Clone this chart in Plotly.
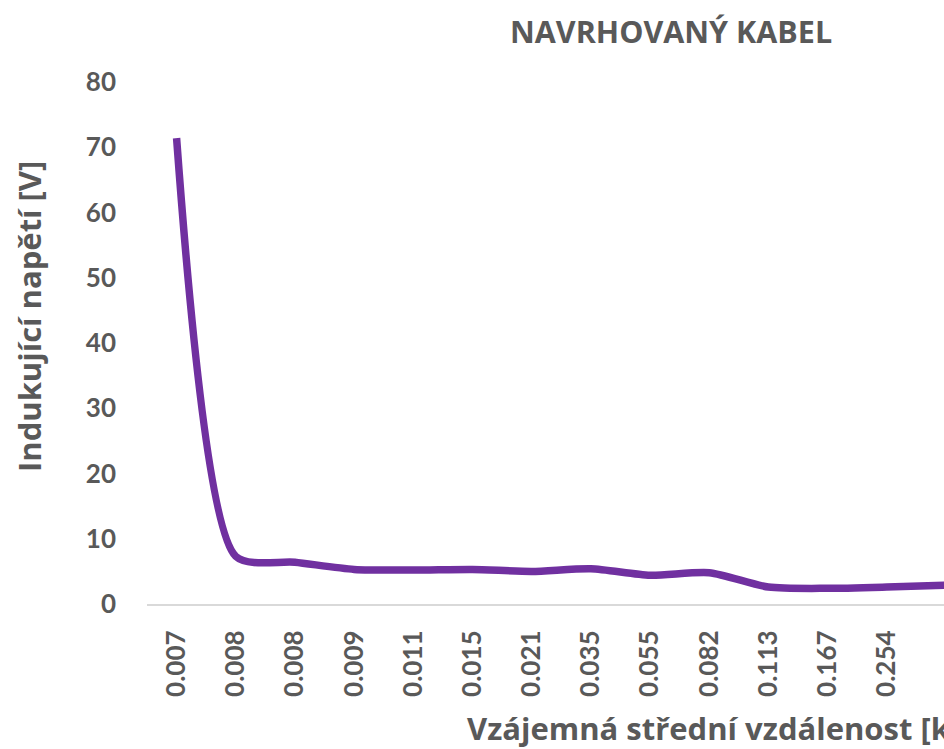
import plotly.graph_objects as go

# Data
categories = ["0.007", "0.008", "0.008", "0.009", "0.011", "0.015", "0.021",
              "0.035", "0.055", "0.082", "0.113", "0.167", "0.254", "0.386"]
voltage = [71.4, 7.3, 6.4, 5.3, 5.2, 5.3, 5.0, 5.4, 4.4, 4.8, 2.6, 2.4, 2.6, 2.9]
y_ticks = [0, 10, 20, 30, 40, 50, 60, 70, 80]

title_text = "NAVRHOVANÝ KABEL"
x_title = "Vzájemná střední vzdálenost [km]"
y_title = "Indukující napětí [V]"

W, H = 944, 749
L, R, T, B = 147, 0, 82, 145
PW, PH = W - L - R, H - T - B
GRAY = "#595959"
FONT = "Lato"
TFONT = "Open Sans"


def px(xp):
    return (xp - L) / PW


def py(yp):
    return (H - B - yp) / PH


idx = list(range(len(categories)))

fig = go.Figure()
fig.add_trace(go.Scatter(
    x=idx, y=voltage, mode="lines",
    line=dict(color="#7030A0", width=7.5, shape="spline", smoothing=0.7),
    hoverinfo="skip",
))

fig.update_layout(
    width=W, height=H,
    margin=dict(l=L, r=R, t=T, b=B, pad=0),
    paper_bgcolor="white", plot_bgcolor="white",
    showlegend=False,
    font=dict(family=FONT, color=GRAY),
    xaxis=dict(
        tickmode="array", tickvals=idx, ticktext=categories,
        range=[-0.5, (W - 177) / 59.15],
        tickangle=-90,
        tickfont=dict(family=FONT, size=26, color=GRAY, weight="bold"),
        showgrid=False, zeroline=False,
        showline=True, linecolor="#d9d9d9", linewidth=2,
        ticks="", ticklabelstandoff=14,
    ),
    yaxis=dict(
        range=[0, 80], tickvals=y_ticks,
        tickfont=dict(family=FONT, size=26, color=GRAY, weight="bold"),
        showgrid=False, zeroline=False, showline=False,
        ticks="", ticklabelstandoff=30,
    ),
    annotations=[
        dict(text=title_text, xref="paper", yref="paper", x=px(671), y=py(31),
             xanchor="center", yanchor="middle", showarrow=False,
             font=dict(family=TFONT, size=30.5, color=GRAY, weight="bold")),
        dict(text=x_title, xref="paper", yref="paper", x=px(465), y=py(728),
             xanchor="left", yanchor="middle", showarrow=False,
             font=dict(family=TFONT, size=31, color=GRAY, weight="bold")),
        dict(text=y_title, xref="paper", yref="paper", x=px(29), y=py(317),
             xanchor="center", yanchor="middle", showarrow=False, textangle=-90,
             font=dict(family=TFONT, size=31, color=GRAY, weight="bold")),
    ],
)

fig.write_html("out.html", config={"displayModeBar": False},
               post_script="document.body.style.margin='0';document.body.style.overflow='hidden';")
